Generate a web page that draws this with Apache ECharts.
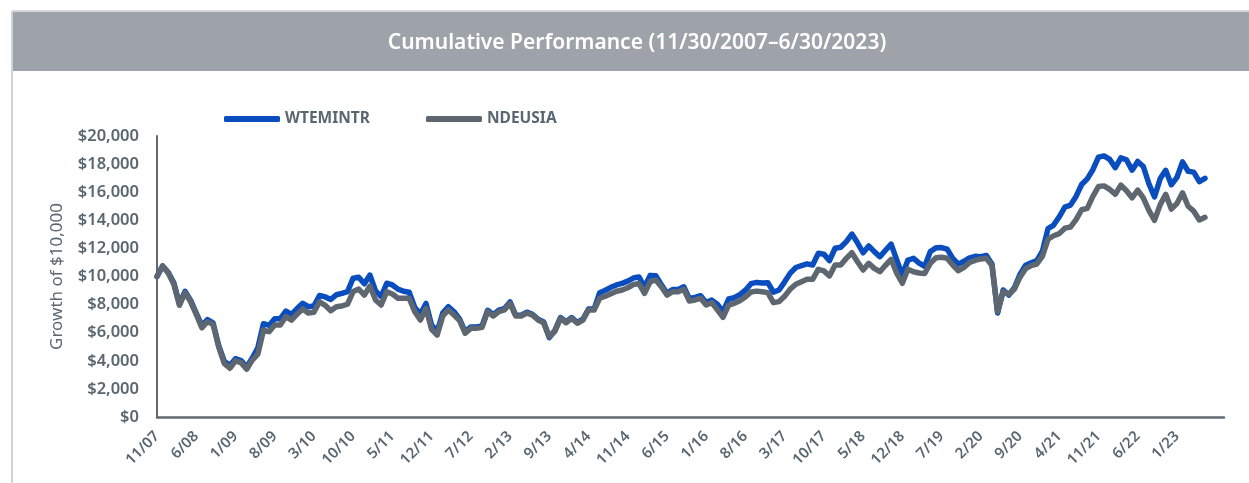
<!DOCTYPE html>
<html>
<head>
<meta charset="utf-8">
<script src="https://cdn.jsdelivr.net/npm/echarts@6/dist/echarts.min.js"></script>
<style>
html,body{margin:0;padding:0;background:#fff;}
#chart{width:1249px;height:483px;}
</style>
</head>
<body>
<div id="chart"></div>
<script>
// Tick labels shown on the x axis (every 7th month starting 11/07)
const tickLabels = ['11/07','6/08','1/09','8/09','3/10','10/10','5/11','12/11','7/12','2/13','9/13','4/14','11/14','6/15','1/16','8/16','3/17','10/17','5/18','12/18','7/19','2/20','9/20','4/21','11/21','6/22','1/23'];

// Series names
const seriesNames = ['WTEMINTR', 'NDEUSIA'];

// Monthly growth of $10,000, 11/2007 .. 6/2023
const wtemintr = [
10000,10750,10300,9550,8050,8950,8300,7400,6500,6930,
6700,5100,3970,3670,4150,4020,3550,4200,4930,6640,
6520,7000,7000,7540,7300,7720,8090,7850,7900,8650,
8550,8370,8700,8800,8930,9880,9950,9480,10100,8980,
8570,9520,9400,9100,8950,8880,7800,7330,8080,6540,
6090,7420,7850,7490,6960,6060,6410,6410,6480,7600,
7290,7600,7720,8190,7250,7250,7460,7310,6960,6760,
5650,6160,7080,6770,7080,6730,6960,7680,7680,8850,
9020,9230,9400,9510,9670,9890,9970,9250,10080,10050,
9420,8800,9070,9080,9270,8430,8510,8630,8150,8320,
8020,7490,8400,8490,8710,9025,9490,9580,9540,9560,
8890,9040,9620,10240,10640,10770,10900,10820,11650,11590,
11130,12010,12080,12480,13020,12400,11690,12170,11770,11410,
11870,12310,11180,10110,11170,11290,10960,10730,11780,12040,
12060,11950,11290,10880,11080,11330,11435,11410,11490,10870,
7400,9040,8680,9200,10150,10800,10980,11130,11800,13410,
13660,14250,14940,15080,15700,16550,16950,17600,18500,18585,
18335,17750,18450,18300,17570,18190,17830,16600,15660,16950,
17560,16530,17050,18160,17490,17430,16750,16990
];
const ndeusia = [
10000,10750,10250,9450,7950,8850,8200,7300,6350,6780,
6600,5000,3820,3470,4000,3870,3400,4050,4480,6190,
6070,6550,6550,7140,6900,7320,7690,7400,7450,8200,
7950,7570,7850,7900,8030,8930,9100,8680,9320,8330,
7970,8920,8750,8450,8450,8450,7500,6900,7730,6240,
5840,7190,7620,7260,6860,5960,6310,6310,6380,7500,
7190,7500,7620,8090,7190,7190,7400,7250,6900,6700,
5720,6100,7020,6710,7020,6670,6900,7620,7620,8450,
8600,8780,8950,9040,9200,9420,9500,8800,9630,9750,
9270,8680,8920,8920,9090,8250,8330,8450,7970,8140,
7620,7090,7970,8090,8280,8550,8900,8960,8920,8850,
8140,8210,8600,9100,9450,9630,9800,9800,10510,10400,
10040,10820,10820,11290,11690,11050,10460,10940,10580,10340,
10800,11220,10230,9520,10510,10340,10250,10210,10950,11330,
11370,11300,10820,10410,10650,11000,11150,11250,11300,10770,
7500,8920,8750,9100,9950,10560,10780,10890,11450,12650,
12900,13050,13440,13520,14050,14750,14850,15700,16400,16450,
16200,15850,16500,16100,15600,16150,15600,14700,14000,15100,
15850,14800,15200,15950,15000,14650,14020,14210
];

const yTicks = [0, 2000, 4000, 6000, 8000, 10000, 12000, 14000, 16000, 18000, 20000];

const FONT = 'Noto Sans';
const TXT = '#5B6770';

const toPairs = arr => arr.map((v, i) => [i, v]);
const chart = echarts.init(document.getElementById('chart'), null, {renderer: 'canvas'});

chart.setOption({
  animation: false,
  backgroundColor: '#ffffff',
  graphic: [
    {type: 'rect', left: 12, top: 11, shape: {width: 1237, height: 60}, style: {fill: '#9DA3A8'}, silent: true, z: 0},
    {type: 'line', shape: {x1: 12, y1: 11, x2: 1249, y2: 11}, style: {stroke: '#D6D8DA', lineWidth: 2}, silent: true},
    {type: 'line', shape: {x1: 12, y1: 11, x2: 12, y2: 483}, style: {stroke: '#D0D3D6', lineWidth: 2}, silent: true},
    {type: 'text', x: 637, y: 43, style: {text: 'Cumulative Performance (11/30/2007\u20136/30/2023)', fill: '#ffffff', font: '600 21px "' + FONT + '"', textAlign: 'center', textVerticalAlign: 'middle'}, silent: true, z: 10}
  ],
  legend: {
    left: 219,
    top: 106,
    itemWidth: 56,
    itemHeight: 6,
    itemGap: 56,
    icon: 'roundRect',
    textStyle: {color: TXT, fontFamily: FONT, fontWeight: 'bold', fontSize: 15.5},
    data: seriesNames
  },
  grid: {left: 157, right: 25, top: 136, bottom: 66, containLabel: false},
  xAxis: {
    type: 'value',
    min: 0,
    max: 190.4,
    interval: 7,
    axisLine: {show: true, lineStyle: {color: '#5F6A72', width: 2.5}},
    axisTick: {show: false},
    splitLine: {show: false},
    axisLabel: {
      rotate: 45,
      margin: 17,
      showMaxLabel: false,
      color: TXT,
      fontFamily: FONT,
      fontWeight: 600,
      fontSize: 15,
      formatter: v => {
        const k = Math.round(v / 7);
        return (v % 7 === 0 && k < tickLabels.length) ? tickLabels[k] : '';
      }
    }
  },
  yAxis: {
    type: 'value',
    min: yTicks[0],
    max: yTicks[yTicks.length - 1],
    interval: 2000,
    name: 'Growth of $10,000',
    nameLocation: 'middle',
    nameGap: 91,
    nameTextStyle: {color: TXT, fontFamily: FONT, fontSize: 17},
    axisLine: {show: true, lineStyle: {color: '#5F6A72', width: 2}},
    axisTick: {show: false},
    splitLine: {show: false},
    axisLabel: {
      margin: 18,
      color: TXT,
      fontFamily: FONT,
      fontWeight: 600,
      fontSize: 16.5,
      formatter: v => '$' + v.toLocaleString('en-US')
    }
  },
  series: [
    {name: seriesNames[0], type: 'line', data: toPairs(wtemintr), showSymbol: false, symbol: 'none',
     lineStyle: {color: '#0A4DBF', width: 5.5, cap: 'round', join: 'round'}, itemStyle: {color: '#0A4DBF'}, z: 2},
    {name: seriesNames[1], type: 'line', data: toPairs(ndeusia), showSymbol: false, symbol: 'none',
     lineStyle: {color: '#5E676F', width: 5.5, cap: 'round', join: 'round'}, itemStyle: {color: '#5E676F'}, z: 3}
  ]
});
</script>
</body>
</html>
